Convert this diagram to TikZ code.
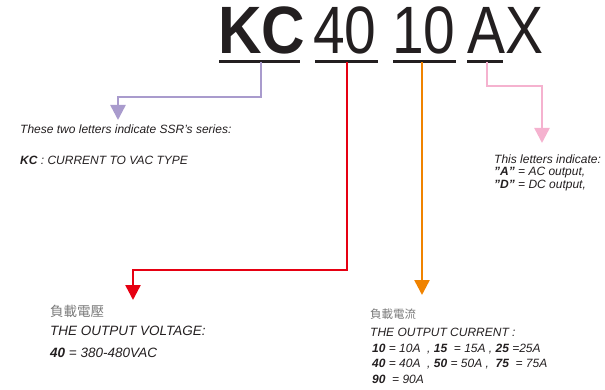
\documentclass[tikz,border=0pt]{standalone}
\usepackage{fontspec}
\setmainfont{Liberation Sans}
\newfontfamily\cjkfont{Noto Sans CJK TC}
\usetikzlibrary{arrows.meta, positioning}
\definecolor{ink}{HTML}{231F20}
\definecolor{cjkgray}{HTML}{7A7A7A}
\definecolor{lavender}{HTML}{A99BCD}
\definecolor{sigred}{HTML}{E60012}
\definecolor{sigorange}{HTML}{F08300}
\definecolor{sigpink}{HTML}{F5B2CF}
\tikzset{
  code/.style={inner sep=0pt, anchor=base west, text=ink,
    font=\fontsize{67}{67}\selectfont},
  uline/.style={draw=ink, line width=3pt},
  lead/.style={line width=2.5pt, -{Triangle[width=15pt,length=15pt]}},
  note/.style={inner sep=0pt, anchor=base west, text=ink,
    font=\itshape\fontsize{12}{14}\selectfont},
  bignote/.style={note, font=\itshape\fontsize{13.5}{16}\selectfont},
  cjknote/.style={inner sep=0pt, anchor=base west, text=cjkgray},
}
\begin{document}
\begin{tikzpicture}[x=1pt, y=-1pt]
  \useasboundingbox (0,0) rectangle (605,390);
  % model code
  \node[code, font=\fontsize{67}{67}\selectfont\bfseries] (kc) at (218,54) {\scalebox{0.9}[1]{KC}};
  \node[code] (forty) at (313,54) {\scalebox{0.85}[1]{40}};
  \node[code] (ten)   at (392,54) {\scalebox{0.85}[1]{10}};
  \node[code] (ax)    at (467,54) {\scalebox{0.85}[1]{AX}};
  % underlines
  \coordinate (kcL) at (219,62);   \coordinate (kcR) at (300,62);
  \coordinate (fortyL) at (315,62); \coordinate (fortyR) at (378,62);
  \coordinate (tenL) at (393,62);  \coordinate (tenR) at (456,62);
  \coordinate (axL) at (467,62);   \coordinate (axR) at (503,62);
  \draw[uline] (kcL) -- (kcR);
  \draw[uline] (fortyL) -- (fortyR);
  \draw[uline] (tenL) -- (tenR);
  \draw[uline] (axL) -- (axR);
  % arrow targets
  \coordinate (seriesTip)  at (118,120);
  \coordinate (voltTip)    at (133,300);
  \coordinate (currTip)    at (422,295);
  \coordinate (outTip)     at (542,143);
  \draw[lead, lavender] (261,62) |- (118,97) -- (seriesTip);
  \draw[lead, sigred] (347,62) |- (133,270) -- (voltTip);
  \draw[lead, sigorange] (422,62) -- (currTip);
  \draw[lead, sigpink] (487,62) |- (542,86) -- (outTip);
  % series
  \node[note] (series1) at (20,134) {These two letters indicate SSR's series:};
  \node[note] (series2) at (20,165) {\textbf{KC} : CURRENT TO VAC TYPE};
  % output type
  \node[note] (out1) at (494,164) {This letters indicate:};
  \node[note] (out2) at (494,176) {\textbf{"A"} = AC output,};
  \node[note] (out3) at (494,189) {\textbf{"D"} = DC output,};
  % voltage
  \node[cjknote, font=\cjkfont\fontsize{13.5}{16}\selectfont] (volt0) at (50,316) {負載電壓};
  \node[bignote] (volt1) at (50,335) {THE OUTPUT VOLTAGE:};
  \node[bignote] (volt2) at (50,357) {\textbf{40} = 380-480VAC};
  % current
  \node[cjknote, font=\cjkfont\fontsize{11.5}{14}\selectfont] (curr0) at (370,318) {負載電流};
  \node[note] (curr1) at (370,336) {THE OUTPUT CURRENT :};
  \node[note] (curr2) at (372,352) {\textbf{10} = 10A\ \ , \textbf{15}\ \ = 15A , \textbf{25} =25A};
  \node[note] (curr3) at (372,367) {\textbf{40} = 40A\ \ , \textbf{50} = 50A ,\ \ \textbf{75}\ \ = 75A};
  \node[note] (curr4) at (372,383) {\textbf{90}\ \ = 90A};
\end{tikzpicture}
\end{document}
